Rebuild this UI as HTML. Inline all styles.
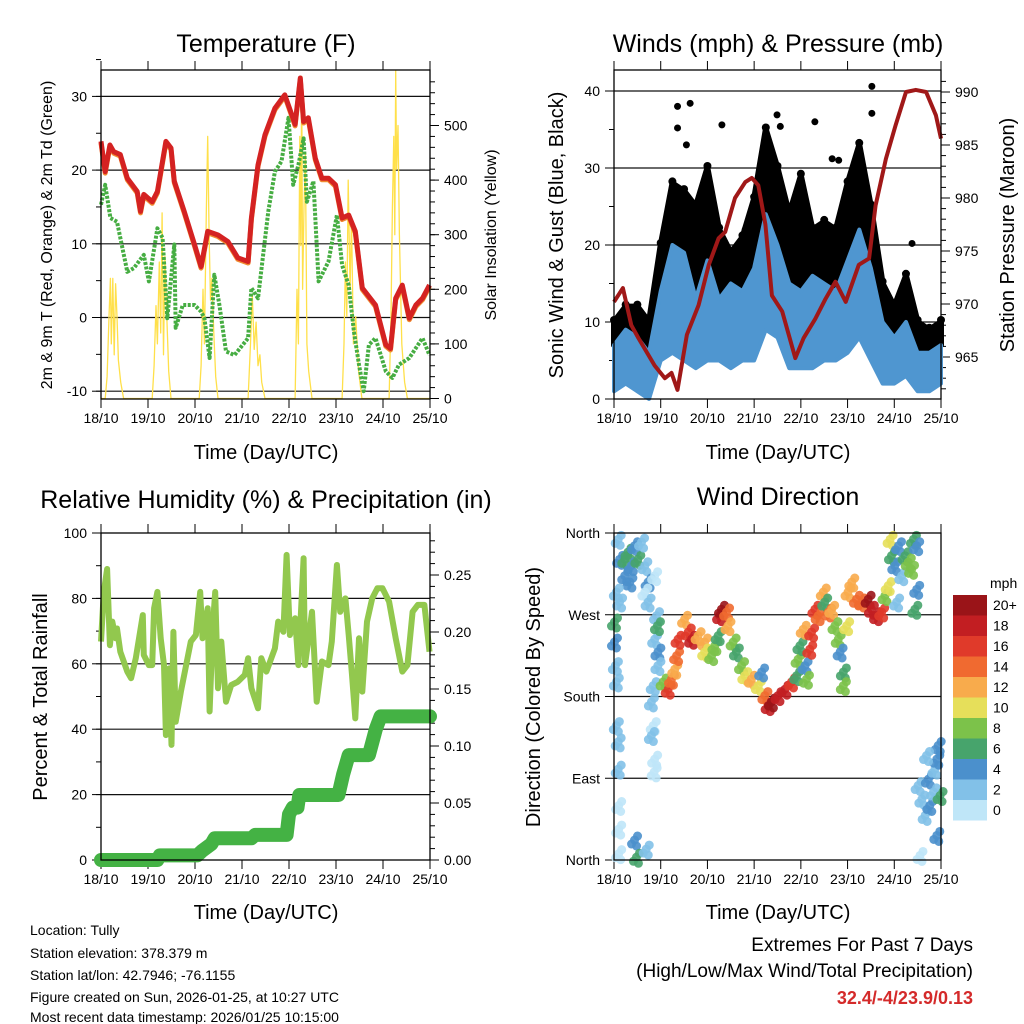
<!DOCTYPE html>
<html><head><meta charset="utf-8"><style>
html,body{margin:0;padding:0;background:#fff}
svg{display:block;font-family:"Liberation Sans",sans-serif}
</style></head><body>
<svg id="s" width="1024" height="1024" viewBox="0 0 1024 1024" xmlns="http://www.w3.org/2000/svg">
<g><text x="266" y="52" font-size="25" text-anchor="middle">Temperature (F)</text></g>
<text x="778" y="52" font-size="25" text-anchor="middle">Winds (mph) &amp; Pressure (mb)</text>
<text x="266" y="508" font-size="25" text-anchor="middle">Relative Humidity (%) &amp; Precipitation (in)</text>
<text x="778" y="505" font-size="25" text-anchor="middle">Wind Direction</text>
<text transform="translate(52,235) rotate(-90)" font-size="16" text-anchor="middle">2m &amp; 9m T (Red, Orange) &amp; 2m Td (Green)</text>
<text transform="translate(496,235) rotate(-90)" font-size="16" text-anchor="middle">Solar Insolation (Yellow)</text>
<text transform="translate(563,235) rotate(-90)" font-size="20" text-anchor="middle">Sonic Wind &amp; Gust (Blue, Black)</text>
<text transform="translate(1014,235) rotate(-90)" font-size="20" text-anchor="middle">Station Pressure (Maroon)</text>
<text transform="translate(47,697) rotate(-90)" font-size="20" text-anchor="middle">Percent &amp; Total Rainfall</text>
<text transform="translate(540,697) rotate(-90)" font-size="20" text-anchor="middle">Direction (Colored By Speed)</text>
<text x="266" y="459" font-size="20" text-anchor="middle">Time (Day/UTC)</text>
<text x="778" y="459" font-size="20" text-anchor="middle">Time (Day/UTC)</text>
<text x="266" y="919" font-size="20" text-anchor="middle">Time (Day/UTC)</text>
<text x="778" y="919" font-size="20" text-anchor="middle">Time (Day/UTC)</text>
<g font-size="14">
<text x="30" y="935">Location: Tully</text>
<text x="30" y="958">Station elevation: 378.379 m</text>
<text x="30" y="980">Station lat/lon: 42.7946; -76.1155</text>
<text x="30" y="1002">Figure created on Sun, 2026-01-25, at 10:27 UTC</text>
<text x="30" y="1022">Most recent data timestamp: 2026/01/25 10:15:00</text>
</g>
<g font-size="19" text-anchor="end">
<text x="973" y="951">Extremes For Past 7 Days</text>
<text x="973" y="977">(High/Low/Max Wind/Total Precipitation)</text>
<text x="973" y="1004" font-size="18" font-weight="bold" fill="#d42a2a">32.4/-4/23.9/0.13</text>
</g>
</svg>
<script>
// ---------- DATA ----------
const dayLabels = ["18/10","19/10","20/10","21/10","22/10","23/10","24/10","25/10"];
const tempT = [0,0.09,0.19,0.27,0.41,0.56,0.77,0.84,0.91,1.09,1.2,1.38,1.49,1.56,1.77,1.99,2.13,2.27,2.49,2.7,2.91,3.13,3.2,3.34,3.49,3.7,3.91,4.06,4.13,4.24,4.31,4.41,4.56,4.7,4.84,4.99,5.13,5.27,5.41,5.56,5.84,6.06,6.16,6.27,6.41,6.56,6.7,6.84,6.99];
const tempV = [23.9,19.8,23.4,22.5,22.1,18.9,17.1,14.4,16.7,15.7,17.1,23.9,23,18.5,14.4,9.9,6.9,11.7,11.2,10.3,8.1,7.6,13.5,20.7,24.8,28.4,30.2,27.5,26.2,32.5,26.6,27.1,21.6,18.9,18.9,18,13.5,13.9,11.7,4,1.7,-3.7,-4.2,2.6,4.4,-0.1,1.7,2.6,4.4];
const dewT = [0,0.09,0.2,0.34,0.56,0.7,0.91,1.02,1.2,1.31,1.41,1.56,1.59,1.74,1.99,2.13,2.2,2.31,2.41,2.52,2.66,2.84,3.13,3.2,3.34,3.56,3.7,3.84,3.99,4.09,4.2,4.31,4.38,4.52,4.63,4.84,5.02,5.13,5.27,5.38,5.49,5.59,5.7,5.84,6.06,6.2,6.34,6.56,6.84,6.99];
const dewV = [15.3,18,13.5,13,6.2,6.7,8.5,4.9,12.1,10.8,-0.1,9.9,-1.4,1.7,1.7,0.8,-0.1,-5.5,5.8,1.7,-4.6,-5.1,-2.8,4,2.6,14.4,19.8,21.2,27.1,18,20.7,24.3,15.7,18.5,4.9,7.6,13.9,7.1,4.4,-1.9,-6.4,-10,-3.7,-2.8,-7.3,-8.2,-6.4,-5.5,-2.8,-5.1];
const solarT = [0,0.09,0.13,0.17,0.2,0.22,0.25,0.28,0.31,0.34,0.37,0.42,0.48,1.09,1.13,1.17,1.2,1.24,1.27,1.3,1.33,1.36,1.4,1.44,1.49,2.09,2.13,2.17,2.2,2.24,2.27,2.3,2.33,2.36,2.4,2.44,2.49,3.13,3.18,3.22,3.26,3.3,3.34,3.38,3.42,3.49,4.13,4.17,4.2,4.23,4.25,4.27,4.29,4.32,4.35,4.38,4.42,4.49,5.13,5.17,5.2,5.23,5.26,5.3,5.33,5.37,5.42,5.48,5.55,6.13,6.17,6.2,6.23,6.25,6.27,6.29,6.32,6.35,6.4,6.46,6.52,7];
const solarV = [0,0,40,150,220,100,220,80,210,150,70,30,0,0,60,170,100,250,120,340,80,260,150,50,0,0,60,200,100,340,480,300,180,220,120,40,0,0,100,190,90,140,60,80,30,0,0,200,100,480,280,590,200,350,450,100,50,0,0,100,250,150,400,200,330,100,150,50,0,0,150,350,480,300,600,420,500,300,100,30,0,0];
const windT = [0,0.25,0.5,0.75,1,1.25,1.5,1.75,2,2.25,2.5,2.75,3,3.25,3.5,3.75,4,4.25,4.5,4.75,5,5.25,5.5,5.75,6,6.25,6.5,6.75,7];
const windLo = [1,2,1,0,5,6,5,4,5,5,4,5,5,9,8,4,4,4,5,5,6,8,5,2,2,3,1,1,2];
const windHi = [7,9,8,6,14,20,19,13,18,13,15,14,17,24,20,15,14,16,15,14,18,22,17,10,8,10,6,6,7];
const gustHi = [10,12,12,10,20,28,27,25,30,22,19,21,26,35,30,24,29,22,23,22,28,33,25,15,12,16,10,9,10];
const gustOutT = [1.36,1.63,1.36,2.31,3.49,4.3,5.52,5.52,2.81,6.38,4.81,4.67,1.55,3.56];
const gustOutV = [38,38.4,35.2,35.6,36.9,36,40.6,37.1,22,20.2,31,31.2,33,35.4];
const presT = [0,0.19,0.37,0.52,0.87,1.09,1.23,1.36,1.56,1.81,2.03,2.24,2.38,2.59,2.81,2.95,3.09,3.24,3.38,3.6,3.88,4.06,4.31,4.53,4.74,4.96,5.24,5.46,5.6,5.82,6.03,6.25,6.46,6.68,6.89,7];
const presV = [970.2,971.5,968,966.8,964.2,963,963.5,961.9,967.1,969.9,973.7,976.2,976.8,980,981.5,981.9,981.2,977.5,970.8,969.3,964.9,966.8,968.6,970.5,972.1,970.2,973.7,974.3,979.3,983.7,986.9,990,990.2,990,987.8,985.6];
const rhT = [0,0.06,0.13,0.19,0.24,0.31,0.34,0.41,0.56,0.64,0.74,0.89,0.91,1.02,1.09,1.13,1.2,1.27,1.34,1.38,1.45,1.5,1.54,1.59,1.7,1.91,2.02,2.11,2.16,2.27,2.31,2.38,2.43,2.49,2.56,2.66,2.77,2.91,3.06,3.13,3.2,3.34,3.41,3.52,3.7,3.77,3.88,3.95,4.02,4.13,4.2,4.31,4.34,4.49,4.59,4.7,4.84,4.91,5.02,5.09,5.2,5.27,5.34,5.41,5.49,5.56,5.66,5.77,5.88,5.99,6.13,6.27,6.41,6.52,6.63,6.74,6.88,6.99];
const rhV = [66.8,82,89,65.7,72.9,67.8,70.8,63.7,57.6,55.6,61.7,74.9,62.7,59.6,59.6,77,82,67.8,59.6,38.2,58.6,35.2,69.8,42.3,51.5,66.8,68.8,82,67.8,77,45.4,71.9,82,52.5,66.8,48.4,53.5,54.5,56.6,61.7,52.5,46.4,61.7,57.6,64.7,72.9,69.8,93.3,68.8,73.9,59.6,92.3,59.6,75.9,48.4,60.7,59.6,66.8,90.2,75.9,80,68.8,56.6,43.3,67.8,51.5,72.9,80,83.1,83.1,79,67.8,57.6,59.6,75.9,78,78,63.7];
const rainT = [0,1.2,1.25,2.05,2.15,2.35,2.42,3.2,3.28,3.95,4.0,4.08,4.18,4.22,5.05,5.15,5.27,5.7,5.85,5.95,7];
const rainV = [0,0,0.004,0.004,0.008,0.014,0.019,0.019,0.022,0.022,0.04,0.046,0.046,0.057,0.057,0.075,0.092,0.092,0.115,0.126,0.126];
const dirT = [0.09,0.12,0.23,0.30,0.37,0.44,0.51,0.59,0.66,0.23,0.34,0.73,0.05,0.12,0.01,0.01,0.03,0.05,0.05,0.09,0.09,0.10,0.10,0.10,0.44,0.48,0.69,0.66,0.73,0.87,0.91,0.87,0.94,0.94,0.84,0.80,0.84,0.80,0.87,0.86,0.93,1.05,1.16,1.23,1.30,1.34,1.37,1.51,1.59,1.66,1.80,1.94,1.94,2.09,2.16,2.23,2.26,2.30,2.41,2.44,2.55,2.62,2.73,2.80,2.94,3.09,3.16,3.23,3.30,3.37,3.51,3.66,3.80,3.91,3.94,3.98,4.05,4.09,4.12,4.19,4.23,4.30,4.37,4.48,4.51,4.59,4.66,4.73,4.80,4.84,4.91,4.91,4.98,5.01,5.09,5.19,5.30,5.44,5.51,5.62,5.73,5.80,5.87,5.91,5.94,6.01,6.09,6.16,6.23,6.30,6.37,6.41,6.48,6.48,6.44,6.05,6.51,6.59,6.66,6.73,6.76,6.84,6.87,6.91,6.94,6.98,6.55,6.91,6.69];
const dirDeg = [353,331,331,339,324,346,331,350,324,313,306,306,295,284,262,240,214,196,148,130,100,60,34,7,22,3,12,295,284,313,269,243,229,214,192,174,148,137,111,97,258,196,188,199,210,225,243,265,251,243,247,240,229,225,236,247,269,276,273,258,240,229,214,203,199,192,207,181,170,174,181,188,196,203,221,236,254,214,199,232,251,276,269,295,284,273,276,258,243,229,207,192,258,295,306,287,284,287,276,269,273,291,302,353,335,324,346,313,335,328,320,353,346,298,276,284,82,67,49,89,60,75,100,111,126,71,5,27,115];
const dirSpd = [3,4,6,6,5,4,6,3,3,4,5,4,2,2,6,4,2,2,2,2,3,1,1,1,4,6,3,1,3,1,2,2,4,3,2,2,1,2,1,1,6,8,16,14,12,14,16,13,17,18,13,12,11,9,8,7,18,20,14,12,8,7,9,11,13,10,5,15,18,20,19,18,16,7,8,7,12,5,9,16,17,17,15,12,7,14,13,9,8,5,6,9,10,12,13,14,15,20,18,19,16,8,10,10,6,4,4,3,6,9,8,6,4,4,6,3,3,3,2,4,4,3,3,4,4,6,1,4,2];
const legendLabels = ["0","2","4","6","8","10","12","14","16","18","20+"];
const speedColors = ["#bfe6f8","#82c1e8","#4b90cc","#47a46c","#7cc24a","#e6df5a","#f8ab4c","#f06a30","#e03a2a","#c21e22","#9a1418"];

// ---------- DRAW ----------
const NS = "http://www.w3.org/2000/svg";
const svg = document.getElementById("s");
function mk(tag, attrs, parent){const e=document.createElementNS(NS,tag);for(const k in attrs)e.setAttribute(k,attrs[k]);(parent||svg).appendChild(e);return e;}
const P = {
  temp:{x0:101,x1:430,y0:70,y1:399},
  wind:{x0:614,x1:941,y0:70,y1:399},
  rh:{x0:101,x1:430,y0:533,y1:860},
  dir:{x0:614,x1:941,y0:533,y1:860}
};
function xs(p,t){return p.x0+t*(p.x1-p.x0)/7;}
const yT = v=>317.5-v*7.37;
const yS = v=>398.5-v*0.546;
const yW = v=>399-v*7.7;
const yP = v=>92+(990-v)*10.6;
const yRH = v=>860-v*3.27;
const yR = v=>860-v*1140;
const yD = v=>860-v*327/360;

function pts(p,T,V,fy){return T.map((t,i)=>xs(p,t).toFixed(1)+","+fy(V[i]).toFixed(1)).join(" ");}

function frame(p,name,gridVals,fy,leftTicks,leftMinor,leftLabels,rightTicks,rightMinor,rightLabels,fyR){
  const g=mk("g",{});
  
  
  gridVals.forEach(v=>{const y=fy(v);mk("line",{x1:p.x0,x2:p.x1,y1:y,y2:y,stroke:"#111","stroke-width":1.2},g);});
  for(let d=0;d<=7;d++){const x=xs(p,d);
    mk("line",{x1:x,x2:x,y1:p.y0,y2:p.y0-9,stroke:"#000","stroke-width":1},g);
    mk("line",{x1:x,x2:x,y1:p.y1,y2:p.y1+9,stroke:"#000","stroke-width":1},g);
    const t=mk("text",{x:x,y:p.y1+24,"font-size":14,"text-anchor":"middle"},g);t.textContent=dayLabels[d];
    
    
  }
  leftMinor.forEach(v=>{const y=fy(v);mk("line",{x1:p.x0,x2:p.x0-5,y1:y,y2:y,stroke:"#000"},g);});
  leftTicks.forEach((v,i)=>{const y=fy(v);mk("line",{x1:p.x0,x2:p.x0-9,y1:y,y2:y,stroke:"#000"},g);
    const t=mk("text",{x:p.x0-14,y:y+5,"font-size":14,"text-anchor":"end"},g);t.textContent=leftLabels[i];
    
    });
  if(rightTicks){
    rightMinor.forEach(v=>{const y=fyR(v);mk("line",{x1:p.x1,x2:p.x1+5,y1:y,y2:y,stroke:"#000"},g);});
    rightTicks.forEach((v,i)=>{const y=fyR(v);mk("line",{x1:p.x1,x2:p.x1+9,y1:y,y2:y,stroke:"#000"},g);
      const t=mk("text",{x:p.x1+14,y:y+5,"font-size":14},g);t.textContent=rightLabels[i];
      
      });
  }
  return g;
}
function border(p,name){const r=mk("rect",{x:p.x0,y:p.y0,width:p.x1-p.x0,height:p.y1-p.y0,fill:"none",stroke:"#000","stroke-width":1.3});
  
  }
function range(a,b,s){const r=[];for(let v=a;v<=b+1e-9;v+=s)r.push(+v.toFixed(3));return r;}

// Panel 1 temperature
const p1=P.temp;
frame(p1,"temperature",[-10,0,10,20,30],yT,[-10,0,10,20,30],range(-10,35,5),["-10","0","10","20","30"],[0,100,200,300,400,500],range(0,580,20),["0","100","200","300","400","500"],yS);
let e=mk("polyline",{points:pts(p1,solarT,solarV,yS),fill:"none",stroke:"#ffe04a","stroke-width":1.3,"stroke-linejoin":"round"});


e=mk("polyline",{points:pts(p1,dewT,dewV,yT),fill:"none",stroke:"#46ad42","stroke-width":4,"stroke-dasharray":"3 1.5","stroke-linejoin":"round"});


e=mk("polyline",{points:pts(p1,tempT,tempV,v=>yT(v)+1.5),fill:"none",stroke:"#f08a30","stroke-width":5,"stroke-linejoin":"round"});


e=mk("polyline",{points:pts(p1,tempT,tempV,yT),fill:"none",stroke:"#d42222","stroke-width":5,"stroke-linejoin":"round"});


border(p1,"temperature");

// Panel 2 winds
const p2=P.wind;
frame(p2,"winds",[10,20,30,40],yW,[0,10,20,30,40],range(0,40,5),["0","10","20","30","40"],[965,970,975,980,985,990],range(962,991,1),["965","970","975","980","985","990"],yP);
const gband=windT.map((t,i)=>xs(p2,t).toFixed(1)+","+yW(gustHi[i]).toFixed(1)).join(" ")+" "+windT.slice().reverse().map((t,j)=>{const i=windT.length-1-j;return xs(p2,t).toFixed(1)+","+yW(windHi[i]).toFixed(1);}).join(" ");
e=mk("polygon",{points:gband,fill:"#000",stroke:"#000","stroke-width":6,"stroke-linejoin":"round"});


windT.forEach((t,i)=>{
  const c=mk("circle",{cx:xs(p2,t),cy:yW(gustHi[i])-2,r:4,fill:"#000"});
  
  
});
gustOutT.forEach((t,i)=>{
  const c=mk("circle",{cx:xs(p2,t),cy:yW(gustOutV[i]),r:3.5,fill:"#000"});
  
  
});
const wband=windT.map((t,i)=>xs(p2,t).toFixed(1)+","+yW(windHi[i]).toFixed(1)).join(" ")+" "+windT.slice().reverse().map((t,j)=>{const i=windT.length-1-j;return xs(p2,t).toFixed(1)+","+yW(windLo[i]).toFixed(1);}).join(" ");
e=mk("polygon",{points:wband,fill:"#4f96d0",stroke:"#4f96d0","stroke-width":4,"stroke-linejoin":"round"});


e=mk("polyline",{points:pts(p2,presT,presV,yP),fill:"none",stroke:"#a01818","stroke-width":4,"stroke-linejoin":"round"});


border(p2,"winds");

// Panel 3 RH
const p3=P.rh;
frame(p3,"humidity",[20,40,60,80],yRH,[0,20,40,60,80,100],range(0,100,10),["0","20","40","60","80","100"],[0,0.05,0.1,0.15,0.2,0.25],range(0,0.28,0.01),["0.00","0.05","0.10","0.15","0.20","0.25"],yR);
e=mk("polyline",{points:pts(p3,rhT,rhV,yRH),fill:"none",stroke:"#92c84e","stroke-width":6,"stroke-linejoin":"round"});


e=mk("polyline",{points:pts(p3,rainT,rainV,yR),fill:"none",stroke:"#44b244","stroke-width":14,"stroke-linejoin":"round","stroke-linecap":"round"});


border(p3,"humidity");

// Panel 4 direction
const p4=P.dir;
frame(p4,"direction",[90,180,270],yD,[0,90,180,270,360],[],["North","East","South","West","North"],null);
const offs=[[0,0],[3,-4],[-3,4],[2,6]];
dirT.forEach((t,i)=>{
  const ci=Math.min(10,Math.floor(dirSpd[i]/2));
  offs.forEach(o=>{
    const c=mk("circle",{cx:xs(p4,t)+o[0],cy:yD(dirDeg[i])+o[1],r:4.5,fill:speedColors[ci],"fill-opacity":0.9});
    
    
  });
});
border(p4,"direction");

// Legend
const lg=mk("g",{});


let tt=mk("text",{x:990,y:588,"font-size":14},lg);tt.textContent="mph";
legendLabels.forEach((l,i)=>{
  const top=800-i*20.5;
  const r=mk("rect",{x:953,y:top,width:34,height:20.5,fill:speedColors[i]},lg);
  
  
  const t=mk("text",{x:993,y:top+15,"font-size":14},lg);t.textContent=l;
  
  
});
</script>
</body></html>
